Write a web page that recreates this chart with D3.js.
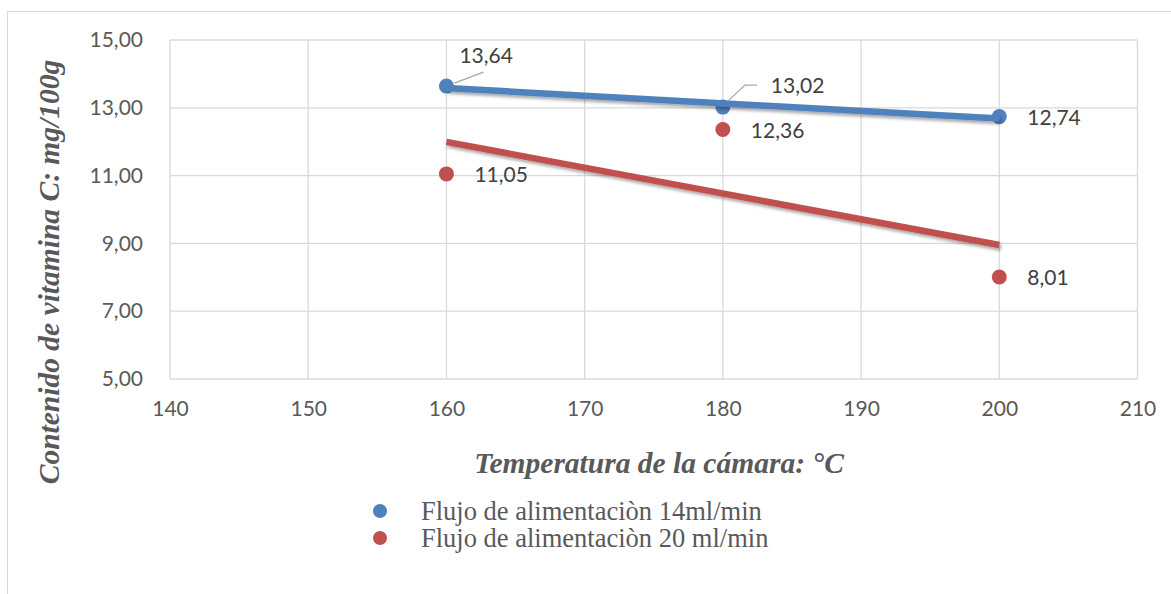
<!DOCTYPE html>
<html>
<head>
<meta charset="utf-8">
<script src="https://cdn.jsdelivr.net/npm/d3@7"></script>
<style>
  html, body { margin: 0; padding: 0; background: #fff; }
  svg { display: block; }
</style>
</head>
<body>
<svg id="chart" width="1171" height="594"></svg>
<script>
// Temperatures (°C) at which vitamin C content was measured
const temperatures = [160, 180, 200];
// Vitamin C content, mg/100g, for each feed flow
const flow14 = [13.64, 13.02, 12.74];
const flow20 = [11.05, 12.36, 8.01];
const seriesNames = ["Flujo de alimentaciòn 14ml/min", "Flujo de alimentaciòn 20 ml/min"];
const xTicks = [140, 150, 160, 170, 180, 190, 200, 210];
const yTicks = [5, 7, 9, 11, 13, 15];

const colors = ["#4f81bd", "#c0504d"];
const svg = d3.select("#chart");

const plot = { left: 170, right: 1137.5, top: 40, bottom: 379 };
const x = d3.scaleLinear().domain([140, 210]).range([plot.left, plot.right]);
const y = d3.scaleLinear().domain([5, 15]).range([plot.bottom, plot.top]);
const fmt = v => d3.format(".2f")(v).replace(".", ",");

// Outer chart frame
svg.append("rect")
  .attr("x", 7.5).attr("y", 11.5).attr("width", 1200).attr("height", 700)
  .attr("fill", "none").attr("stroke", "#d9d9d9").attr("stroke-width", 1);

const defs = svg.append("defs");
const shadow = defs.append("filter").attr("id", "shadow")
  .attr("x", "-10%").attr("y", "-50%").attr("width", "120%").attr("height", "200%");
shadow.append("feDropShadow").attr("dx", 1.5).attr("dy", 2.5).attr("stdDeviation", 1.8)
  .attr("flood-color", "#000").attr("flood-opacity", 0.35);

// Gridlines
const grid = svg.append("g");
grid.selectAll(".vx").data(xTicks).join("line")
  .attr("x1", d => x(d)).attr("x2", d => x(d))
  .attr("y1", plot.top).attr("y2", plot.bottom)
  .attr("stroke", "#d9d9d9").attr("stroke-width", 1.3);
grid.selectAll(".hy").data(yTicks).join("line")
  .attr("x1", plot.left).attr("x2", plot.right)
  .attr("y1", d => y(d)).attr("y2", d => y(d))
  .attr("stroke", "#d9d9d9").attr("stroke-width", 1.3);

// Axes (labels only; lines come from the grid)
const tickFont = "Lato, 'Open Sans', sans-serif";
const xAxis = svg.append("g").attr("transform", `translate(0,${plot.bottom})`)
  .call(d3.axisBottom(x).tickValues(xTicks).tickSize(0).tickPadding(22).tickFormat(d3.format("d")));
const yAxis = svg.append("g").attr("transform", `translate(${plot.left},0)`)
  .call(d3.axisLeft(y).tickValues(yTicks).tickSize(0).tickPadding(27).tickFormat(fmt));
[xAxis, yAxis].forEach(a => {
  a.select(".domain").remove();
  a.selectAll("text").attr("font-family", tickFont)
    .attr("font-size", 21).attr("fill", "#595959");
});

// Linear trend line for a series
function trend(xs, ys) {
  const mx = d3.mean(xs), my = d3.mean(ys);
  const b = d3.sum(xs, (v, i) => (v - mx) * (ys[i] - my)) / d3.sum(xs, v => (v - mx) ** 2);
  const a = my - b * mx;
  const x0 = d3.min(xs), x1 = d3.max(xs);
  return [[x0, a + b * x0], [x1, a + b * x1]];
}

const series = [flow14, flow20];
const line = d3.line().x(d => x(d[0])).y(d => y(d[1]));

// Markers
series.forEach((vals, s) => {
  svg.append("g").selectAll("circle").data(vals).join("circle")
    .attr("cx", (d, i) => x(temperatures[i])).attr("cy", d => y(d))
    .attr("r", 7.5).attr("fill", colors[s]);
});

// Trend lines drawn above the markers
series.forEach((vals, s) => {
  svg.append("path").datum(trend(temperatures, vals))
    .attr("d", line).attr("fill", "none")
    .attr("stroke", colors[s]).attr("stroke-width", 6.5)
    .attr("filter", "url(#shadow)");
});

// Data labels
const labels = [
  { v: flow14[0], t: temperatures[0], dx: 13, dy: -30 },
  { v: flow14[1], t: temperatures[1], dx: 48, dy: -21 },
  { v: flow14[2], t: temperatures[2], dx: 28, dy: 1 },
  { v: flow20[0], t: temperatures[0], dx: 28, dy: 1 },
  { v: flow20[1], t: temperatures[1], dx: 28, dy: 1 },
  { v: flow20[2], t: temperatures[2], dx: 28, dy: 1 }
];
svg.append("g").selectAll("text").data(labels).join("text")
  .attr("x", d => x(d.t) + d.dx).attr("y", d => y(d.v) + d.dy)
  .attr("dy", "0.35em")
  .attr("font-family", tickFont).attr("font-size", 21)
  .attr("fill", "#404040").text(d => fmt(d.v));

// Leader lines for the two labels moved off their points
const leaders = [
  [[x(temperatures[0]) + 8, y(flow14[0]) - 3], [x(temperatures[0]) + 37, y(flow14[0]) - 14]],
  [[x(temperatures[1]) + 6, y(flow14[1]) - 7], [x(temperatures[1]) + 22, y(flow14[1]) - 22], [x(temperatures[1]) + 34, y(flow14[1]) - 22]]
];
svg.append("g").selectAll("path").data(leaders).join("path")
  .attr("d", d3.line()).attr("fill", "none")
  .attr("stroke", "#a6a6a6").attr("stroke-width", 1.3);

// Axis titles
const titleFont = "'Liberation Serif', 'Times New Roman', serif";
svg.append("text")
  .attr("x", 659).attr("y", 473).attr("text-anchor", "middle")
  .attr("font-family", titleFont)
  .attr("font-style", "italic").attr("font-weight", "bold")
  .attr("font-size", 29.5).attr("fill", "#595959")
  .text("Temperatura de la cámara: °C");
svg.append("text")
  .attr("transform", "translate(59,272) rotate(-90)")
  .attr("text-anchor", "middle")
  .attr("font-family", titleFont)
  .attr("font-style", "italic").attr("font-weight", "bold")
  .attr("font-size", 29.5).attr("fill", "#595959")
  .text("Contenido de vitamina C: mg/100g");

// Legend
const legend = svg.append("g").selectAll("g").data(seriesNames).join("g")
  .attr("transform", (d, i) => `translate(380,${511 + i * 27})`);
legend.append("circle").attr("r", 7).attr("fill", (d, i) => colors[i]);
legend.append("text").attr("x", 41).attr("dy", "0.33em")
  .attr("font-family", titleFont)
  .attr("font-size", 26.5).attr("fill", "#595959").text(d => d);
</script>
</body>
</html>
